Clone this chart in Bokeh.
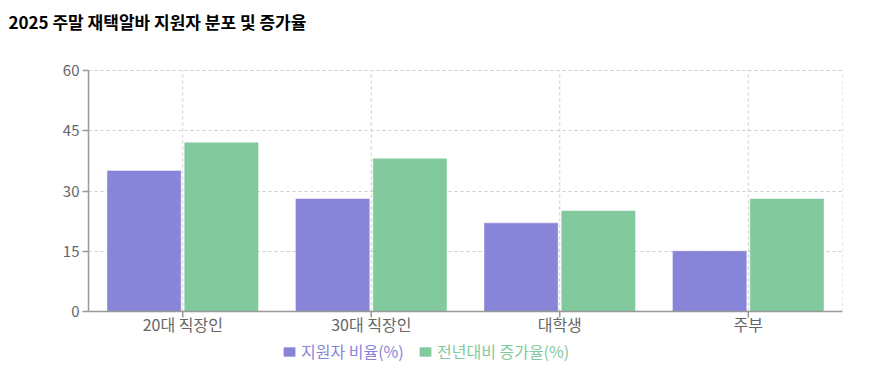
from bokeh.plotting import figure
from bokeh.models import (ColumnDataSource, FactorRange, Span, Range1d, Title,
                          Legend, LegendItem)
from bokeh.core.properties import value
from bokeh.transform import dodge
from bokeh.embed import file_html
from bokeh.resources import INLINE

title_text = "2025 주말 재택알바 지원자 분포 및 증가율"
categories = ["20대 직장인", "30대 직장인", "대학생", "주부"]
applicant_share = [35, 28, 22, 15]
yoy_growth = [42, 38, 25, 28]
series_names = ["지원자 비율(%)", "전년대비 증가율(%)"]
y_ticks = [0, 15, 30, 45, 60]

FONT = "Noto Sans CJK KR"
PURPLE = "#8884d8"
GREEN = "#82ca9d"
GRID = "#cccccc"
AXIS = "#999999"

# layout constants (pixels)
W, H = 869, 382
LEFT, RIGHT = 88, 27
FRAME_TOP = 38          # title panel sits just above the frame
PX_MAX, PX_ZERO = 70, 311   # pixel rows of y=60 and y=0
upp = (y_ticks[-1] - y_ticks[0]) / (PX_ZERO - PX_MAX)   # data units per pixel
y_start = y_ticks[0] - (H - PX_ZERO) * upp
y_end = y_ticks[-1] + (PX_MAX - FRAME_TOP) * upp

src = ColumnDataSource(dict(cat=categories, a=applicant_share, b=yoy_growth))

p = figure(width=W, height=H, output_backend="svg", toolbar_location=None,
           x_range=FactorRange(factors=categories, range_padding=0),
           y_range=Range1d(y_start, y_end), x_axis_location=None,
           min_border_left=LEFT, min_border_right=RIGHT,
           min_border_top=FRAME_TOP, min_border_bottom=0)
p.outline_line_color = None
p.xgrid.visible = False

p.title = Title(text=title_text, align="left", offset=-80,
                text_font=FONT, text_font_size="17px", text_font_style="bold",
                text_color="#000000")

# horizontal grid
p.ygrid.ticker = y_ticks
p.ygrid.grid_line_color = GRID
p.ygrid.grid_line_dash = "3 3"

# vertical grid (category centres + right edge), only across the value range
p.segment(x0=categories, x1=categories, y0=[y_ticks[0]] * len(categories),
          y1=[y_ticks[-1]] * len(categories), line_color=GRID, line_dash="3 3")
edge = ColumnDataSource(dict(cat=[categories[-1]], y0=[y_ticks[0]], y1=[y_ticks[-1]]))
p.segment(x0=dodge("cat", 0.5, range=p.x_range), x1=dodge("cat", 0.5, range=p.x_range),
          y0="y0", y1="y1", source=edge, line_color=GRID, line_dash="3 3")

# bars
r1 = p.vbar(x=dodge("cat", -0.205, range=p.x_range), top="a", width=0.389, source=src,
            fill_color=PURPLE, line_color=PURPLE, line_alpha=0.5)
r2 = p.vbar(x=dodge("cat", 0.205, range=p.x_range), top="b", width=0.389, source=src,
            fill_color=GREEN, line_color=GREEN, line_alpha=0.5)

# y axis
yax = p.yaxis[0]
yax.ticker = y_ticks
yax.bounds = (y_ticks[0], y_ticks[-1])
yax.axis_line_color = AXIS
yax.axis_line_width = 1.5
yax.major_tick_line_color = AXIS
yax.major_tick_line_width = 1.5
yax.major_tick_out = 6
yax.major_tick_in = 0
yax.minor_tick_line_color = None
yax.major_label_text_font = FONT
yax.major_label_text_font_size = "15px"
yax.major_label_text_color = "#666666"
yax.major_label_standoff = 3

# x axis drawn at y = 0 inside the frame
p.add_layout(Span(location=y_ticks[0], dimension="width", line_color=AXIS, line_width=1.5))
tick_len = 6 * upp
p.segment(x0=categories, x1=categories, y0=[y_ticks[0]] * len(categories),
          y1=[y_ticks[0] - tick_len] * len(categories), line_color=AXIS, line_width=1.5)
p.text(x=categories, y=[y_ticks[0]] * len(categories), text=categories, y_offset=12,
       text_font=value(FONT), text_font_size="16px", text_color="#666666",
       text_align="center", text_baseline="middle")

# legends (one per series so each label keeps its own colour)
for r, name, col, xloc in ((r1, series_names[0], PURPLE, 194), (r2, series_names[1], GREEN, 330)):
    lg = Legend(items=[LegendItem(label=name, renderers=[r])], location=(xloc, 19),
                orientation="horizontal", padding=0, margin=0, spacing=0,
                glyph_width=14, glyph_height=11, label_standoff=5,
                label_height=20,
                label_text_font=FONT, label_text_font_size="16px", label_text_color=col,
                border_line_color=None, background_fill_alpha=0)
    p.add_layout(lg, "center")

open("out.html", "w").write(file_html(p, INLINE))
